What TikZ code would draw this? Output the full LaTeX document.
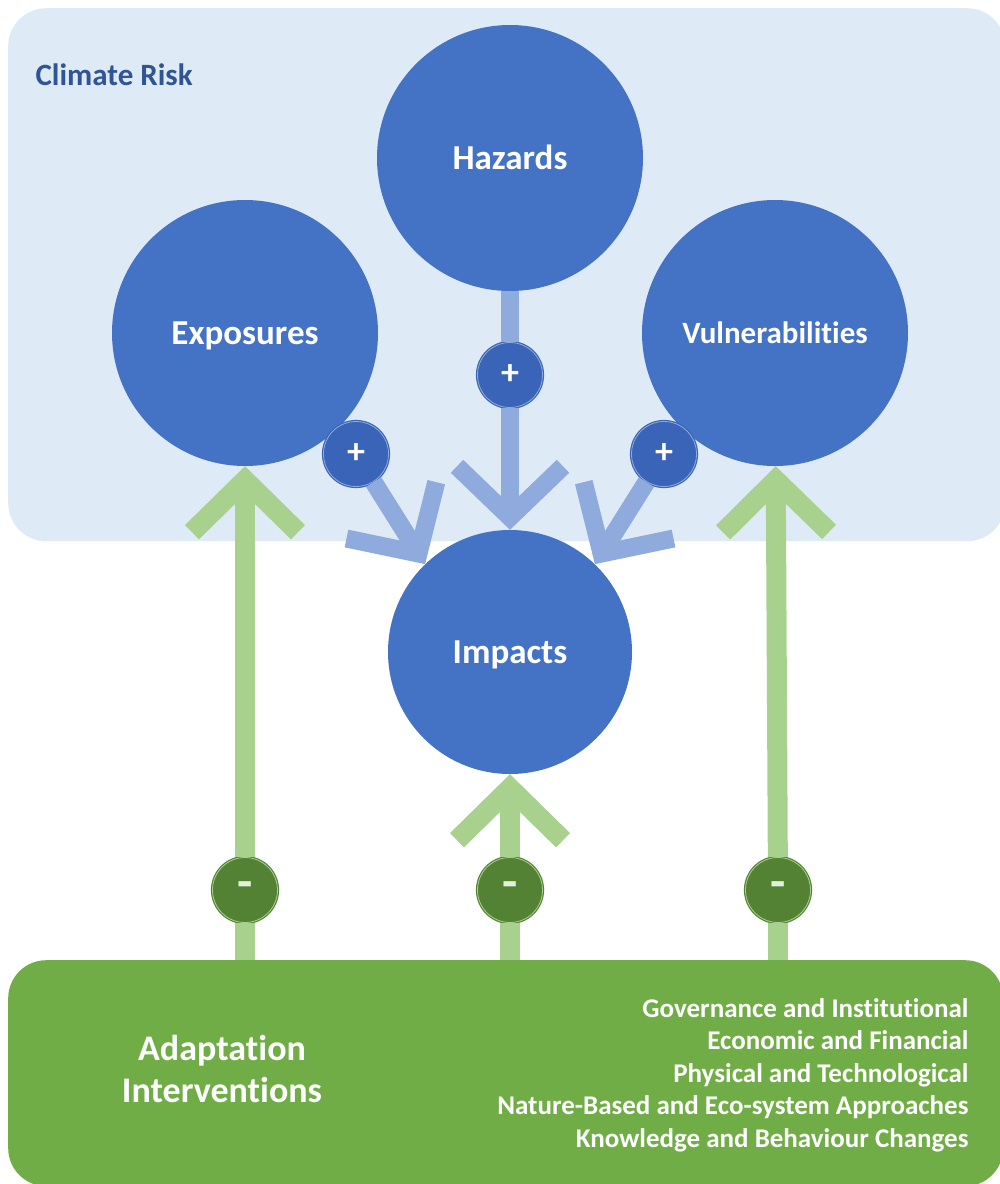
\documentclass[tikz,border=0pt]{standalone}
\usepackage{fontspec}
\setmainfont{Carlito}[Ligatures=NoCommon]
\usepackage{xcolor}
\usetikzlibrary{arrows.meta, positioning}

\definecolor{riskbg}{HTML}{DEEBF7}
\definecolor{hubblue}{HTML}{4472C4}
\definecolor{risktext}{HTML}{2F5597}
\definecolor{plusfill}{HTML}{3A64B7}
\definecolor{linkblue}{HTML}{8FAADC}
\definecolor{adaptgreen}{HTML}{70AD47}
\definecolor{linkgreen}{HTML}{A9D18E}
\definecolor{minusfill}{HTML}{548235}
\definecolor{minustext}{HTML}{E2F0D9}

\begin{document}
\begin{tikzpicture}[x=1pt, y=-1pt]
% Define styles
\tikzstyle{panel} = [rectangle, rounded corners=38pt, inner sep=0pt, anchor=north west]
\tikzstyle{hub} = [circle, fill=hubblue, text=white, inner sep=0pt, minimum size=266pt, text height=22pt, text depth=0pt, font=\bfseries\fontsize{35}{42}\selectfont]
\tikzstyle{plus} = [circle, minimum size=65pt, inner sep=0pt, fill=plusfill, draw=plusfill, double=linkblue, double distance=0.8pt, line width=1.2pt, text=white, font=\bfseries\fontsize{36}{36}\selectfont]
\tikzstyle{minus} = [circle, minimum size=65pt, inner sep=0pt, fill=minusfill, draw=minusfill, double=linkgreen, double distance=0.8pt, line width=1.2pt, text=minustext, font=\bfseries\fontsize{50}{50}\selectfont]
\tikzstyle{bluestem} = [draw=linkblue, line width=18pt]
\tikzstyle{bluelink} = [bluestem, -{Straight Barb[sharp, length=51pt, width=106pt]}]
\tikzstyle{greenstem} = [draw=linkgreen, line width=20pt]
\tikzstyle{greenlink} = [greenstem, -{Straight Barb[sharp, length=52pt, width=106pt]}]

\useasboundingbox (0,0) rectangle (1000,1184);

% Panels
\node (risk) [panel, fill=riskbg, minimum width=997pt, minimum height=533pt] at (8,8) {};
\node (adapt) [panel, fill=adaptgreen, minimum width=995pt, minimum height=226pt] at (8,960) {};
\node (risklabel) [anchor=west, text=risktext, font=\bfseries\fontsize{31}{36}\selectfont] at (32,75) {Climate Risk};

% Nodes
\node (hazards) [hub] at (510,158) {Hazards};
\node (expo) [hub] at (245,333) {Exposures};
\node (vuln) [hub, text height=20pt, font=\bfseries\fontsize{31}{38}\selectfont] at (775,333) {Vulnerabilities};
\node (impacts) [hub, minimum size=244pt] at (510,652) {Impacts};

\node (plusC) [plus] at (510,375) {+};
\node (plusL) [plus] at (356,454) {+};
\node (plusR) [plus] at (664,454) {+};

\node (minusL) [minus] at (245,890) {-};
\node (minusC) [minus] at (510,890) {-};
\node (minusR) [minus] at (778,890) {-};

\node (adaptlabel) [align=center, text=white, font=\bfseries\fontsize{36}{42}\selectfont] at (222,1069) {Adaptation\\Interventions};
\node (measures) [anchor=east, align=right, text=white, font=\bfseries\fontsize{27}{32.5}\selectfont] at (972,1075) {Governance and Institutional\\Economic and Financial\\Physical and Technological\\Nature-Based and Eco-system Approaches\\Knowledge and Behaviour Changes};

% Connections
\draw [bluestem] (hazards) -- (plusC);
\draw [bluelink] (plusC) -- (impacts);
\draw [bluelink] (plusL) -- (impacts.134);
\draw [bluelink] (plusR) -- (impacts.46);

\draw [greenstem] (adapt.north -| minusL) -- (minusL);
\draw [greenstem] (adapt.north -| minusC) -- (minusC);
\draw [greenstem] (adapt.north -| minusR) -- (minusR);
\draw [greenlink] (minusL) -- (expo);
\draw [greenlink] (minusC) -- (impacts);
\draw [greenlink] (minusR) -- (vuln);

\end{tikzpicture}
\end{document}
